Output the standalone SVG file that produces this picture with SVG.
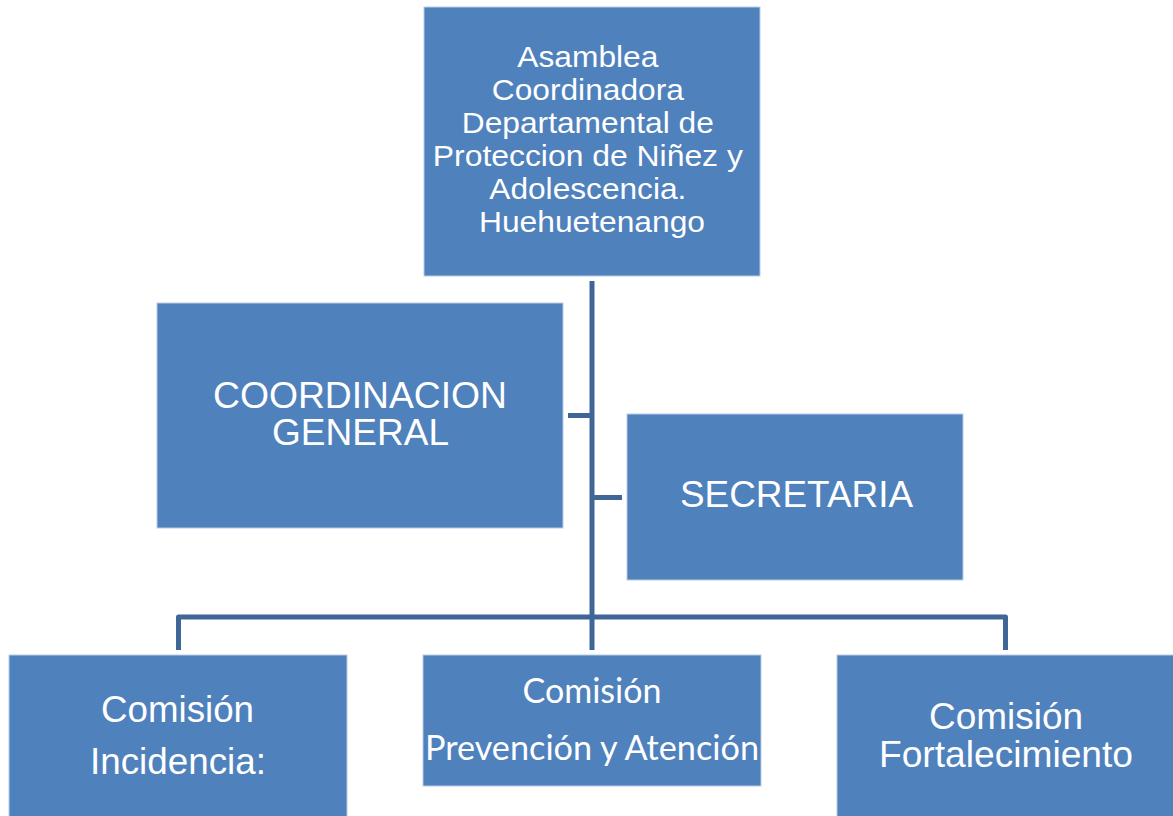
<svg xmlns="http://www.w3.org/2000/svg" width="1173" height="816" viewBox="0 0 1173 816">
<style>
.box{fill:#4F81BD;stroke:#B9CDE5;stroke-width:1}
.t{fill:#FFFFFF;font-family:"Liberation Sans",Arial,sans-serif;text-anchor:middle}
.c{fill:#FFFFFF;font-family:Lato,"Noto Sans",sans-serif;text-anchor:middle}
.ln{fill:none;stroke:#3F6697;stroke-width:5;stroke-linejoin:round}
</style>
<rect width="1173" height="816" fill="#FFFFFF"/>
<g id="connectors">
<path class="ln" d="M592,281 V650" stroke-width="6"/>
<path class="ln" d="M568,415.5 H592"/>
<path class="ln" d="M592,497.5 H622"/>
<path class="ln" d="M178.5,650 V617 H1005.5 V650"/>
</g>
<g id="asamblea">
<rect class="box" x="424" y="7" width="336" height="269"/>
<text class="t" font-size="30">
<tspan x="592" y="67" textLength="141" lengthAdjust="spacingAndGlyphs">Asamblea</tspan>
<tspan x="592" y="100" textLength="192" lengthAdjust="spacingAndGlyphs">Coordinadora</tspan>
<tspan x="592" y="133" textLength="252" lengthAdjust="spacingAndGlyphs">Departamental de</tspan>
<tspan x="592" y="166" textLength="310" lengthAdjust="spacingAndGlyphs">Proteccion de Niñez y</tspan>
<tspan x="592" y="199" textLength="197" lengthAdjust="spacingAndGlyphs">Adolescencia.</tspan>
<tspan x="592" y="232" textLength="226" lengthAdjust="spacingAndGlyphs">Huehuetenango</tspan>
</text>
</g>
<g id="coordinacion">
<rect class="box" x="157" y="303" width="406" height="225"/>
<text class="t" font-size="36"><tspan x="360" y="408" textLength="294" lengthAdjust="spacingAndGlyphs">COORDINACION</tspan><tspan x="360.5" y="445" textLength="177" lengthAdjust="spacingAndGlyphs">GENERAL</tspan></text>
</g>
<g id="secretaria">
<rect class="box" x="627" y="414" width="336" height="166"/>
<text class="t" font-size="36" x="796.5" y="507" textLength="233" lengthAdjust="spacingAndGlyphs">SECRETARIA</text>
</g>
<g id="incidencia">
<rect class="box" x="9" y="655" width="338" height="170"/>
<text class="t" font-size="36"><tspan x="177.5" y="722" textLength="153" lengthAdjust="spacingAndGlyphs">Comisión</tspan><tspan x="178" y="774" textLength="176" lengthAdjust="spacingAndGlyphs">Incidencia:</tspan></text>
</g>
<g id="prevencion">
<rect class="box" x="423" y="655" width="338" height="131"/>
<text class="c" font-size="34"><tspan x="592" y="703" textLength="139" lengthAdjust="spacingAndGlyphs">Comisión</tspan><tspan x="592" y="760" textLength="334" lengthAdjust="spacingAndGlyphs">Prevención y Atención</tspan></text>
</g>
<g id="fortalecimiento">
<rect class="box" x="837" y="655" width="345" height="170"/>
<text class="t" font-size="36"><tspan x="1006" y="729" textLength="154" lengthAdjust="spacingAndGlyphs">Comisión</tspan><tspan x="1006" y="767" textLength="254" lengthAdjust="spacingAndGlyphs">Fortalecimiento</tspan></text>
</g>
</svg>
